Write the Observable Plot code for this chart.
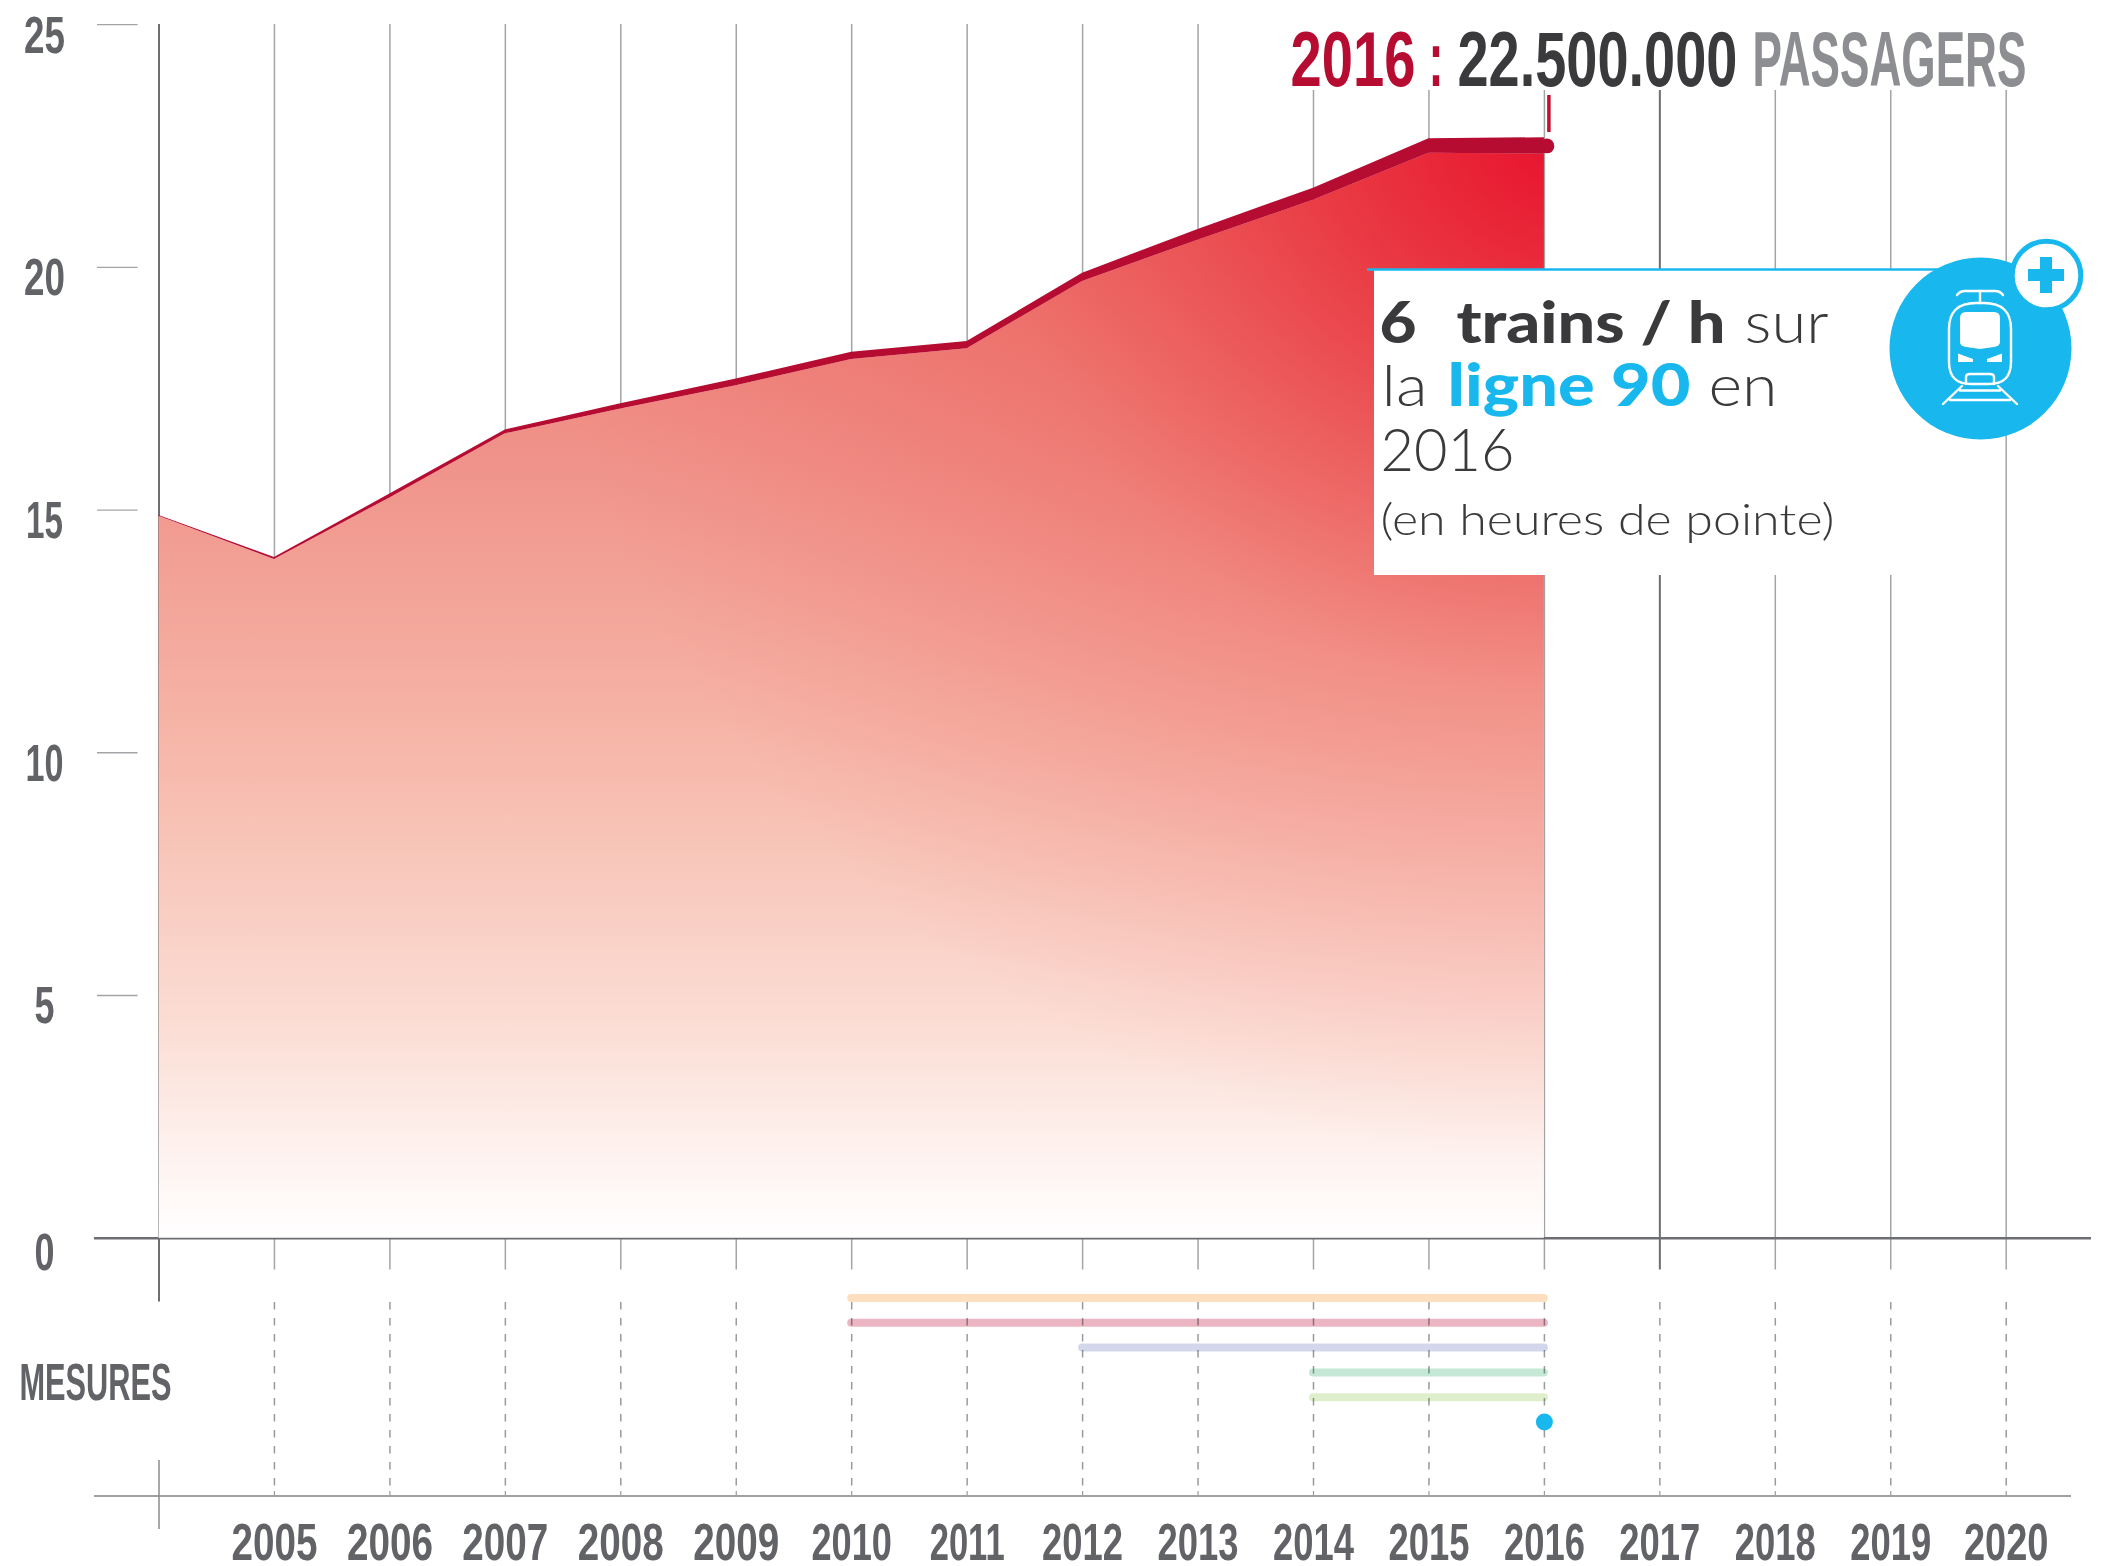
<!DOCTYPE html>
<html lang="fr">
<head>
<meta charset="utf-8">
<script src="https://cdn.jsdelivr.net/npm/d3@7"></script>
<script src="https://cdn.jsdelivr.net/npm/@observablehq/plot@0.6"></script>
<style>html,body{margin:0;padding:0;background:#fff;overflow:hidden}svg{display:block}</style>
</head>
<body>
<div id="chart"></div>
<script>
// ---- data ----
const years = [2004,2005,2006,2007,2008,2009,2010,2011,2012,2013,2014,2015,2016];
const lineTop = [14.89,14.02,15.33,16.65,17.19,17.70,18.25,18.47,19.88,20.78,21.63,22.65,22.67];
const lineBottom = [14.87,13.98,15.25,16.57,17.08,17.56,18.10,18.32,19.71,20.56,21.38,22.35,22.33];
const gridYears = [2005,2006,2007,2008,2009,2010,2011,2012,2013,2014,2015,2016,2018,2019,2020];
const darkYears = [2004,2017];
const labelYears = [2005,2006,2007,2008,2009,2010,2011,2012,2013,2014,2015,2016,2017,2018,2019,2020];
const labelYearWidths = [86,86,86,86,86,80.5,75,81,81,81,81,81,81,81,81,84.6];
const yTicks = [25,20,15,10,5,0];
const yTickWidths = [41,41,37,38,20,20];
const measureStart = [2010,2010,2012,2014,2014];
const measureEnd = [2016,2016,2016,2016,2016];
const measureColors = ["#fddfc0","#ebb5c3","#d3d7ec","#c5e8d5","#e0efcb"];
const singleMeasure = [2016];

// ---- pixel helpers for annotation placement ----
const X0 = 158.5, XU = 115.45, Y0 = 1237.7, YU = 48.544;
const xOf = px => (px - X0) / XU + 2004;
const yOf = px => (Y0 - px) / YU;
const rowPx = i => 1297.5 + i * 24.8;

const condensed = "'Liberation Sans Narrow','Liberation Sans',Roboto,sans-serif";
const GREY = "#626366", GRID = "#a3a4a7", DARK = "#6d6e71", BLUE = "#18b8ee", CRIMSON = "#b70c32";

// squeeze each text horizontally to the width it has in the picture
const measureCtx = document.createElement("canvas").getContext("2d");
const fit = lengths => function(index, scales, values, dims, ctx, next) {
  const g = next(index, scales, values, dims, ctx);
  d3.select(g).selectAll("text").each(function(_, i) {
    const o = fit.opts.get(lengths) || {};
    measureCtx.font = `${o.fontWeight || 400} ${o.fontSize}px ${o.fontFamily}`;
    const natural = measureCtx.measureText(this.textContent).width;
    const t = this.getAttribute("transform") || "";
    this.setAttribute("transform", `${t} scale(${lengths[index[i]] / natural},1)`);
  });
  return g;
};
fit.opts = new Map();
const fitted = (lengths, o) => { fit.opts.set(lengths, o); return {...o, render: fit(lengths)}; };

const run = (text, x0, x1, base, o) => Plot.text([text], {
  x: () => xOf(x0), y: () => yOf(base), text: d => d,
  textAnchor: "start", lineAnchor: "bottom", ...fitted([x1 - x0], o)
});

const rows = years.map((year, i) => ({year, top: lineTop[i], bottom: lineBottom[i]}));
const measures = measureStart.map((s, i) => ({s, e: measureEnd[i], c: measureColors[i], i}));

const defs = () => {
  const g = document.createElementNS("http://www.w3.org/2000/svg", "g");
  g.innerHTML = `<defs>
    <linearGradient id="base" gradientUnits="userSpaceOnUse" x1="0" y1="1238" x2="0" y2="130">
      <stop offset="0" stop-color="#ffffff"/>
      <stop offset="0.2" stop-color="#fbdcd3"/>
      <stop offset="0.45" stop-color="#f6b6a8"/>
      <stop offset="0.7" stop-color="#f0938a"/>
      <stop offset="1" stop-color="#ec6f6a"/>
    </linearGradient>
    <radialGradient id="glow" gradientUnits="userSpaceOnUse" cx="1560" cy="130" r="1030">
      <stop offset="0" stop-color="#e8112e" stop-opacity="1"/>
      <stop offset="0.25" stop-color="#e8202f" stop-opacity="0.66"/>
      <stop offset="0.55" stop-color="#ea3a3c" stop-opacity="0.26"/>
      <stop offset="1" stop-color="#ec5050" stop-opacity="0"/>
    </radialGradient></defs>`;
  return g;
};

const icon = (index, scales) => {
  const g = document.createElementNS("http://www.w3.org/2000/svg", "g");
  g.setAttribute("transform", `translate(${scales.x(xOf(1980))},${scales.y(yOf(348))})`);
  g.innerHTML = `
   <g fill="none" stroke="#fff" stroke-width="2.4" stroke-linecap="round" stroke-linejoin="round">
     <path d="M-23,-53 Q-20,-57 -15,-57 H15 Q20,-57 23,-53"/>
     <path d="M0,-57 V-45"/>
     <path d="M-31,-19 Q-31,-45 -4,-45 H4 Q31,-45 31,-19 V14 Q31,36 9,36 H-9 Q-31,36 -31,14 Z"/>
     <path d="M-14,36 V29 Q-14,26 -10,26 H10 Q14,26 14,29 V36"/>
     <path d="M-18,38 L-37,56 M18,38 L37,56 M-20,42.5 H20 M-30,52 H30"/>
   </g>
   <path fill="#fff" d="M-14,-36 H14 Q20,-36 20,-30 V-6 Q20,-2 14,-1 L0,1 L-14,-1 Q-20,-2 -20,-6 V-30 Q-20,-36 -14,-36 Z"/>
   <path fill="#fff" d="M-22,5.5 L-7,11 L-7,14 L-22,14 Z M22,5.5 L7,11 L7,14 L22,14 Z"/>
   <g transform="translate(66,-73)" fill="${BLUE}">
     <rect x="-18" y="-6" width="36" height="12"/><rect x="-6" y="-18" width="12" height="36"/>
   </g>`;
  return g;
};

const titleFont = {fontFamily: condensed, fontWeight: 700, fontSize: 78};
const heavy = {fontFamily: "Lato", fontWeight: 900, fontSize: 58};
const light = {fontFamily: "Lato", fontWeight: 300, fontSize: 58};
const axisFont = {fontFamily: condensed, fontWeight: 700, fontSize: 51, fill: GREY};

const chart = Plot.plot({
  width: 2105, height: 1576, margin: 0,
  style: {background: "#fff", color: GREY, overflow: "hidden"},
  x: {type: "linear", domain: [2004, 2020], range: [X0, 2005.7], axis: null},
  y: {type: "linear", domain: [25, yOf(1576)], range: [24.1, 1576], axis: null},
  marks: [
    defs,
    // grid
    Plot.ruleX(gridYears, {x: d => d, y1: 25, y2: yOf(1269.5), stroke: GRID, strokeWidth: 1.5}),
    Plot.ruleX(darkYears, {x: d => d, y1: 25, y2: d => yOf(d === 2004 ? 1301.5 : 1269.5), stroke: DARK, strokeWidth: 2}),
    Plot.ruleX(labelYears, {x: d => d, y1: yOf(1302), y2: yOf(1486), stroke: "#9a9b9e", strokeWidth: 1.5, strokeDasharray: "7.5,8.5"}),
    Plot.ruleX(labelYears, {x: d => d, y1: yOf(1491), y2: yOf(1495), stroke: "#9a9b9e", strokeWidth: 1.2}),
    Plot.ruleY(yTicks.slice(0, 5), {y: d => d, x1: xOf(97), x2: xOf(137.5), stroke: GRID, strokeWidth: 1.3}),
    Plot.ruleY([0], {x1: xOf(94), x2: xOf(2091), stroke: DARK, strokeWidth: 2.4}),
    Plot.ruleY([yOf(1495.5)], {x1: xOf(94), x2: xOf(2071), stroke: "#9fa0a3", strokeWidth: 2}),
    Plot.ruleX([2004], {x: d => d, y1: yOf(1460), y2: yOf(1529), stroke: "#8a8b8e", strokeWidth: 1.5}),
    // area
    Plot.areaY(rows, {x: "year", y1: 0, y2: "bottom", fill: "url(#base)"}),
    Plot.areaY(rows, {x: "year", y1: 0, y2: "bottom", fill: "url(#glow)"}),
    Plot.areaY(rows, {x: "year", y1: "bottom", y2: "top", fill: CRIMSON}),
    Plot.dot(singleMeasure, {x: d => d, y: () => 22.5, r: 7.4, fill: CRIMSON, dx: 2.5}),
    Plot.ruleX(singleMeasure, {x: d => d, y1: yOf(95), y2: yOf(132), stroke: "#c1112f", strokeWidth: 3.5, dx: 4.5}),
    // measures
    Plot.ruleY(measures, {y: d => yOf(rowPx(d.i)), x1: "s", x2: "e", stroke: "c", strokeWidth: 8, strokeLinecap: "round", mixBlendMode: "multiply"}),
    Plot.dot(singleMeasure, {x: d => d, y: () => yOf(rowPx(5)), r: 8.5, fill: BLUE}),
    // title background and callout
    Plot.rect([0], {x1: xOf(1285), x2: xOf(2040), y1: yOf(0), y2: yOf(90), fill: "#fff"}),
    Plot.rect([0], {x1: xOf(1374), x2: xOf(1985), y1: yOf(269), y2: yOf(575), fill: "#fff"}),
    Plot.ruleY([yOf(269)], {x1: xOf(1367), x2: xOf(1960), stroke: BLUE, strokeWidth: 2.6}),
    Plot.dot([0], {x: () => xOf(1980), y: () => yOf(348), r: 91, fill: BLUE}),
    Plot.dot([0], {x: () => xOf(2046), y: () => yOf(275), r: 34.3, fill: "#fff", stroke: BLUE, strokeWidth: 5}),
    icon,
    // title
    run("2016", 1290, 1415, 85, {...titleFont, fill: CRIMSON}),
    run(":", 1428, 1443, 85, {...titleFont, fill: CRIMSON}),
    run("22.500.000", 1457, 1737, 85, {...titleFont, fill: "#3a3a3c"}),
    run("PASSAGERS", 1752, 2026, 85, {...titleFont, fill: "#8d8e92"}),
    // callout text
    run("6", 1379, 1416, 342.5, {...heavy, fill: "#3a3a3c"}),
    run("trains / h", 1456, 1725, 342.5, {...heavy, fill: "#3a3a3c"}),
    run("sur", 1744, 1828, 342.5, {...light, fill: "#3a3a3c"}),
    run("la", 1381, 1427, 405.7, {...light, fill: "#3a3a3c"}),
    run("ligne 90", 1447, 1690, 405.7, {...heavy, fill: BLUE}),
    run("en", 1708, 1777, 405.7, {...light, fill: "#3a3a3c"}),
    run("2016", 1380, 1514, 470, {...light, fontSize: 60, fill: "#3a3a3c"}),
    run("(en heures de pointe)", 1380, 1834, 534, {...light, fontSize: 43, fill: "#3a3a3c"}),
    // axis labels
    Plot.text(labelYears, {x: d => d, y: () => yOf(1559), text: d => String(d), textAnchor: "middle", lineAnchor: "bottom",
      ...fitted(labelYearWidths, axisFont)}),
    Plot.text(yTicks, {x: 2004, y: d => d, text: d => String(d), dx: -114.5, dy: 28, textAnchor: "middle", lineAnchor: "bottom",
      filter: d => d !== 0, ...fitted(yTickWidths, axisFont)}),
    Plot.text([0], {x: 2004, y: d => d, text: d => String(d), dx: -114.5, dy: 32, textAnchor: "middle", lineAnchor: "bottom",
      ...fitted([20], axisFont)}),
    run("MESURES", 19, 171, 1399, axisFont)
  ]
});
document.getElementById("chart").append(chart);
</script>
</body>
</html>
